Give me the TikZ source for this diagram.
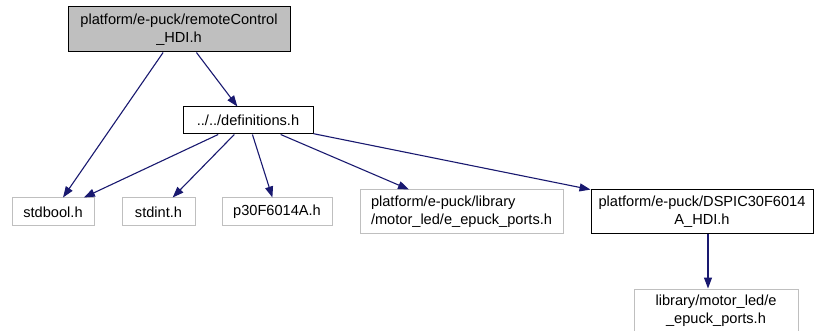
\documentclass[tikz,border=0pt]{standalone}
\usepackage{fontspec}
\setmainfont{Liberation Sans}
\usetikzlibrary{arrows.meta,positioning}
\definecolor{EdgeBlue}{HTML}{191970}
\definecolor{FileGray}{HTML}{BFBFBF}
\tikzset{
 file/.style={draw=FileGray, line width=1pt, fill=white, align=center, inner sep=2pt, font=\fontsize{14.6}{18}\selectfont},
 linkfile/.style={file, draw=black},
 rootfile/.style={linkfile, fill=FileGray},
 edge/.style={-{Triangle[length=11pt,width=8pt]}, line width=1.1pt, draw=EdgeBlue}
}
\begin{document}
\begin{tikzpicture}[x=1pt,y=-1pt]
\useasboundingbox[fill=white] (0,0) rectangle (814,331);
% files
\node[rootfile, minimum width=222pt, minimum height=45pt] (root) at (179,29.5) {platform/e-puck/remoteControl\\\_HDI.h};
\node[linkfile, minimum width=130pt, minimum height=27pt] (defs) at (248,120.5) {../../definitions.h};
\node[file, minimum width=82pt, minimum height=28pt] (stdbool) at (53,212) {stdbool.h};
\node[file, minimum width=73pt, minimum height=28pt] (stdint) at (158.5,212) {stdint.h};
\node[file, minimum width=110pt, minimum height=28pt] (p30) at (277,212) {p30F6014A.h};
\node[file, minimum width=203pt, minimum height=44pt, align=left] (ports) at (461.5,212) {platform/e-puck/library\\/motor\_led/e\_epuck\_ports.h};
\node[linkfile, minimum width=222pt, minimum height=44pt] (dspic) at (702,212) {platform/e-puck/DSPIC30F6014\\A\_HDI.h};
\node[file, minimum width=164pt, minimum height=44pt] (libports) at (716,311) {library/motor\_led/e\\\_epuck\_ports.h};
% includes
\draw[edge] (root) -- (stdbool);
\draw[edge] (root) -- (defs);
\draw[edge] (defs) -- (stdbool);
\draw[edge] (defs) -- (stdint);
\draw[edge] (defs) -- (p30);
\draw[edge] (defs) -- (ports);
\draw[edge] (defs) -- (dspic);
\draw[edge] ([xshift=6pt]dspic.south) -- ([xshift=-8pt]libports.north);
\end{tikzpicture}
\end{document}
